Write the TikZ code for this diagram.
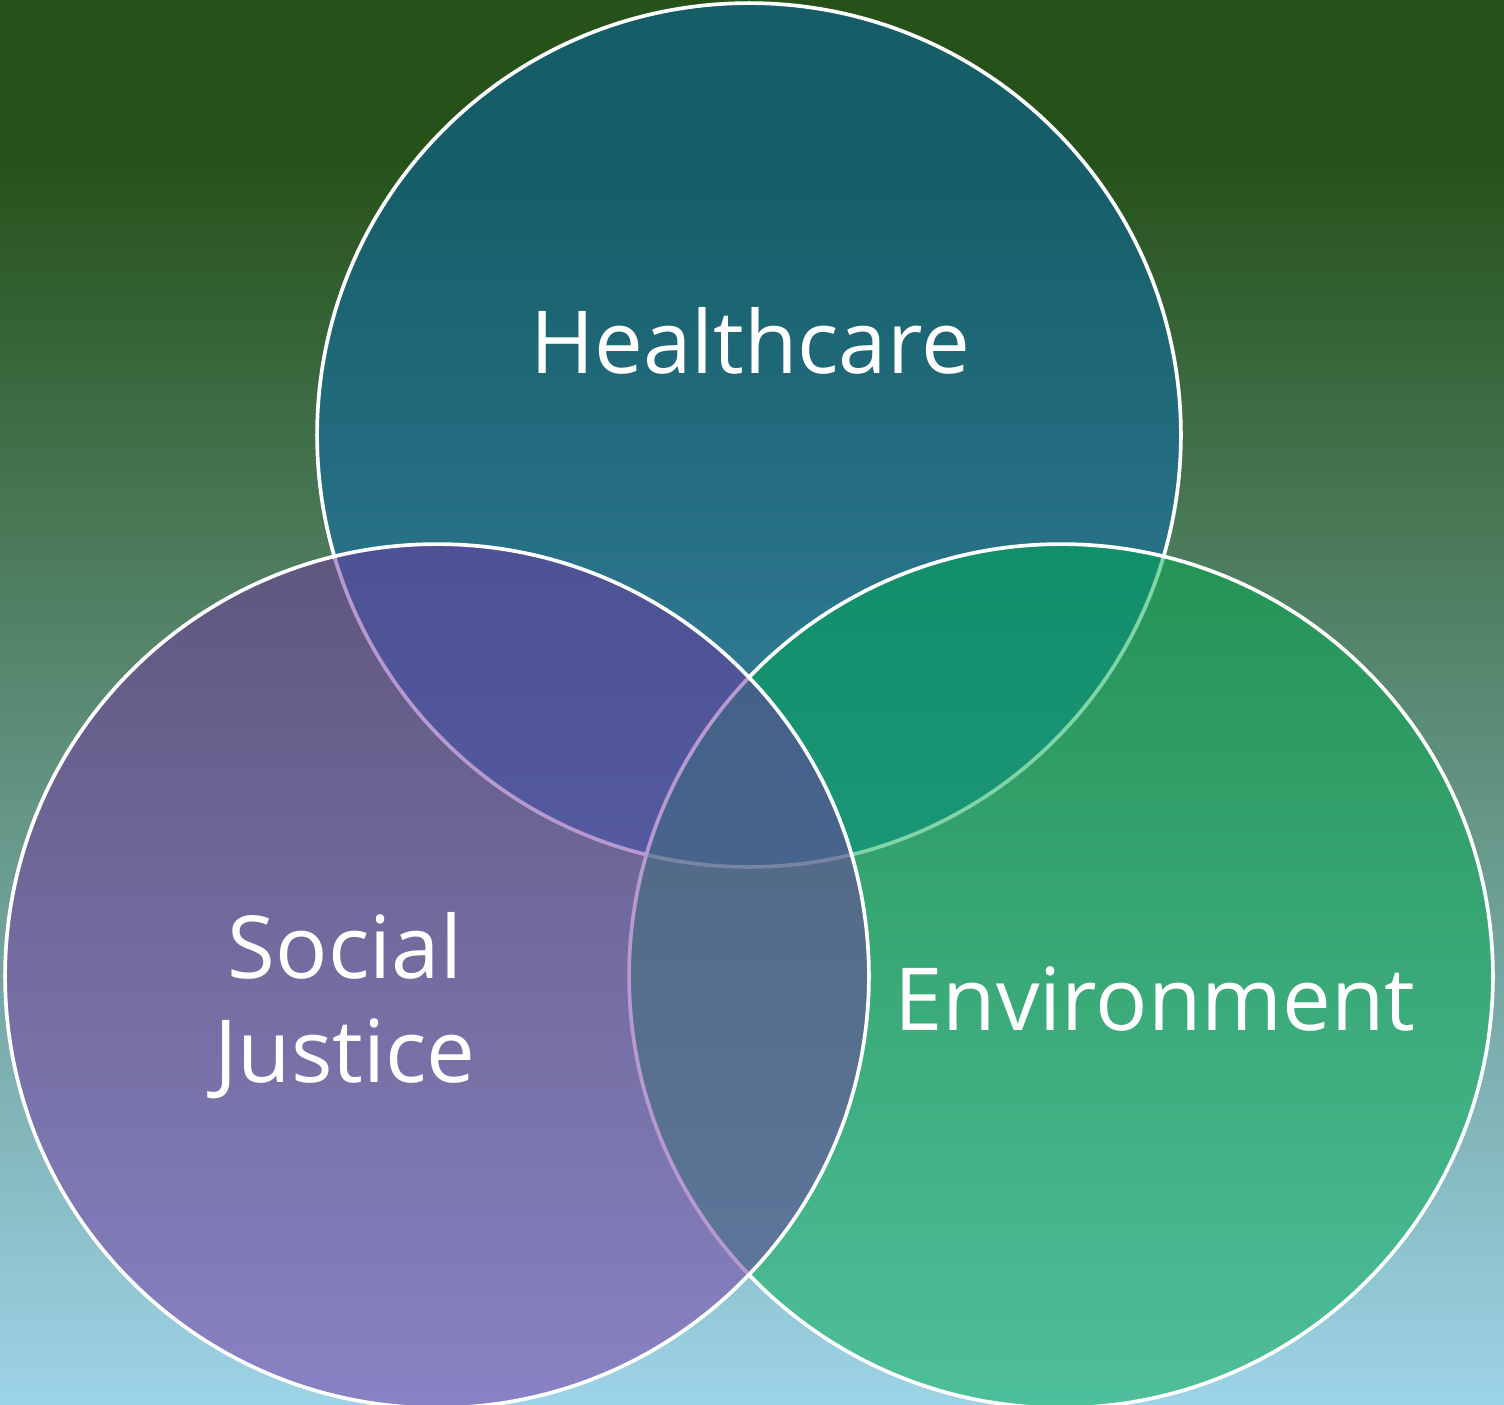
\documentclass[tikz,border=0pt]{standalone}
\usepackage{fontspec}
\setmainfont{Open Sans}
\usetikzlibrary{positioning}

\definecolor{bgtop}{HTML}{26521A}
\definecolor{bgbot}{HTML}{9DD3E8}
\definecolor{healthblue}{HTML}{0569B4}
\definecolor{envgreen}{HTML}{00AC50}
\definecolor{justpurple}{HTML}{7334A1}

\pgfdeclareverticalshading{bgfade}{100bp}{color(0bp)=(bgbot); color(25bp)=(bgbot); color(69.3bp)=(bgtop); color(100bp)=(bgtop)}

\begin{document}
\begin{tikzpicture}[x=0.02cm, y=-0.02cm,
    venn/.style={circle, draw=white, line width=2.1pt, minimum size=17.28cm, inner sep=0pt, fill opacity=0.5},
    lbl/.style={text=white, font=\fontsize{49.5}{58.8}\selectfont, align=center, anchor=base}]
  % background
  \shade[shading=bgfade] (0,0) rectangle (1504,1404);
  \useasboundingbox (0,0) rectangle (1504,1404);
  % circles, back to front
  \node[venn, fill=healthblue] (health) at (749,435) {};
  \node[venn, fill=envgreen] (env) at (1061,976) {};
  \node[venn, fill=justpurple] (just) at (437,976) {};
  % labels
  \node[lbl] (healthtxt) at (750,373) {Healthcare};
  \node[lbl] (envtxt) at (1155,1030) {Environment};
  \node[lbl] (justtxt) at (345,1082) {Social\\Justice};
\end{tikzpicture}
\end{document}
